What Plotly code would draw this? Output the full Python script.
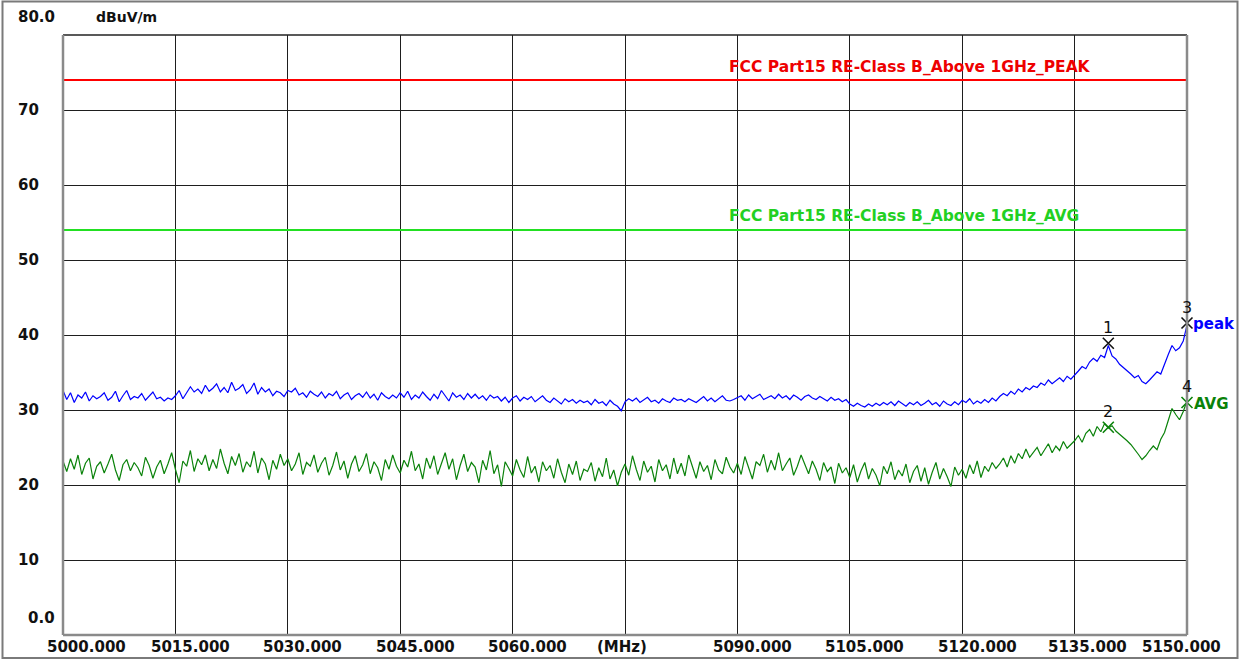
import plotly.graph_objects as go

# ---------------- data ----------------
F_START = 5000.0
F_STEP = 0.5

peak_values = [
    32.6, 31.4, 32.3, 31.0, 32.0, 31.6, 32.4, 31.2, 31.9, 31.5,
    31.8, 32.3, 31.3, 31.7, 32.5, 31.1, 31.9, 32.6, 31.4, 31.8,
    31.6, 32.2, 31.3, 31.9, 32.4, 31.5, 31.7, 31.2, 31.6, 31.4,
    31.9, 32.6, 31.5, 32.3, 33.1, 32.4, 32.8, 32.2, 33.3, 32.5,
    32.9, 33.5, 32.4, 33.0, 32.3, 33.7, 32.6, 32.9, 33.4, 32.2,
    32.7, 33.6, 32.1, 33.0, 32.4, 32.8, 31.9, 32.5, 32.3, 31.8,
    32.6, 32.4, 32.9, 32.0, 32.3, 31.7, 32.5, 32.1, 31.8, 32.4,
    31.6, 32.2, 31.9, 32.5, 31.5, 32.0, 32.3, 31.4, 31.9, 32.2,
    31.7, 32.4, 31.6, 32.1, 31.3, 32.3, 31.8, 31.5, 32.0, 31.6,
    32.3, 31.7, 32.5, 31.4, 32.0, 31.6, 32.4, 31.8, 31.3, 32.1,
    31.5, 32.6, 31.9, 31.2, 32.3, 31.7, 32.0, 31.4, 32.2, 31.6,
    32.1, 31.5, 31.9, 31.3, 32.0, 31.6, 31.8, 31.2, 31.7, 31.0,
    31.6, 31.9, 31.2, 31.7, 31.4, 31.8, 31.1, 31.5, 31.9, 31.3,
    31.0, 31.6, 31.2, 30.8, 31.5, 31.1, 31.4, 30.9, 31.3, 31.0,
    31.2, 30.7, 31.4, 30.9, 31.1, 30.6, 31.3, 30.8, 30.5, 29.9,
    31.1, 31.5, 31.2, 31.6, 31.0, 31.4, 31.7, 31.1, 31.3, 30.9,
    31.5, 31.2, 31.0, 31.6, 31.3, 31.4, 31.1, 31.5, 31.2, 31.0,
    31.4, 31.8, 31.2, 31.6, 31.1, 31.5, 31.9, 31.3, 31.2, 31.4,
    31.6, 31.9, 31.3, 32.0, 31.5, 31.8, 32.1, 31.4, 31.7, 31.9,
    31.5, 32.1, 31.6, 31.9, 31.4, 32.0, 31.7, 31.3, 31.8, 32.0,
    31.6, 31.4, 31.8, 31.5, 31.2, 31.7, 31.3, 31.5, 31.1, 31.4,
    30.8, 30.5, 30.9, 30.6, 30.4, 30.8, 30.5, 30.9, 30.6, 31.0,
    30.7, 31.1, 30.6, 31.2, 30.8, 30.5, 31.0, 30.7, 31.1, 30.6,
    30.9, 31.3, 30.7, 31.0, 30.5, 31.2, 30.8, 30.6, 31.1, 30.7,
    31.3, 31.0, 31.5, 30.8, 31.2, 30.9, 31.4, 31.0, 31.6, 31.2,
    31.8, 32.2, 31.9, 32.5, 32.1, 32.8, 32.4, 33.0, 32.7, 33.2,
    33.0, 33.6, 33.3, 34.0, 33.5, 33.9, 34.3, 33.8, 34.5, 34.1,
    34.6, 35.2, 35.8, 35.5, 36.4, 36.9, 36.5, 37.3, 37.0, 38.6,
    37.2, 36.8, 36.1, 35.7, 35.2, 34.8, 34.3, 34.6, 33.8, 33.5,
    34.0, 34.6, 35.1, 34.8, 36.2, 37.4, 38.6, 37.9, 38.3, 39.2,
    41.3,
]

avg_values = [
    23.2, 21.8, 23.5, 22.1, 24.0, 21.4, 22.9, 23.6, 20.8, 22.5,
    23.1, 21.6, 22.8, 24.1, 22.0, 20.6, 22.7, 23.4, 21.9, 23.0,
    22.3, 21.2, 23.7, 22.6, 20.9, 22.4, 23.3, 21.5, 22.8, 24.3,
    22.1, 20.3, 23.2, 22.5, 24.6, 21.8, 23.5, 22.7, 24.0, 21.9,
    23.4, 22.2, 24.8, 22.9, 21.5, 23.8, 22.6, 24.2, 21.7, 23.1,
    22.4, 24.5, 21.6, 23.6, 22.8, 20.7, 23.3, 22.1, 24.1, 22.6,
    23.5, 21.9, 22.8, 24.3, 21.4, 23.0, 22.5, 24.0, 21.7, 22.9,
    23.7, 21.3, 22.6, 24.4, 22.0, 23.2, 20.9, 22.8, 23.9, 21.8,
    22.7, 24.2, 21.5, 23.1, 22.3, 20.6, 23.4, 22.1, 24.0, 22.5,
    21.6, 23.3, 22.4, 24.5, 21.9, 22.8, 20.8, 23.6, 22.2, 23.9,
    21.4, 22.9, 24.3, 22.1, 23.5, 20.7, 22.6, 24.1, 21.8, 23.0,
    22.4, 20.3, 23.3, 22.0, 24.6, 21.5, 22.7, 19.8, 23.1, 22.2,
    21.2, 23.4, 22.0, 21.0, 23.8, 21.6, 22.5, 20.4, 23.1, 21.9,
    22.6, 20.9, 23.5, 21.7, 20.3, 22.8, 21.4, 23.2, 20.6, 22.1,
    21.8, 23.0, 20.5, 22.3, 21.1, 23.6, 20.8, 22.0, 19.9, 21.7,
    22.8, 21.3, 23.9, 22.1, 20.6, 23.2, 21.7, 22.5, 20.4, 23.4,
    21.9, 22.7, 20.8, 23.6, 21.5, 22.9, 21.2, 24.0, 22.3, 20.9,
    23.1, 21.8, 22.6, 20.7, 23.4, 22.0, 21.5, 23.7, 22.4, 21.6,
    22.9, 21.4, 23.8, 22.2, 20.8, 23.1, 22.6, 24.1, 21.7, 23.3,
    22.0, 24.3, 21.9, 22.8, 23.6, 21.3, 22.5, 24.0, 22.7, 21.5,
    23.2, 22.1, 20.6, 23.0, 21.8, 22.4, 20.2, 22.9, 21.6, 22.3,
    21.0, 22.7, 20.4, 21.9, 23.0, 20.8, 22.2, 21.3, 19.9, 22.5,
    21.5, 23.1, 20.7, 22.0, 21.2, 22.8, 20.3, 21.8, 22.6, 20.5,
    22.3, 20.1, 21.7, 23.0, 20.8, 22.2, 21.1, 19.8, 22.4, 21.3,
    22.1, 20.9, 22.7, 21.5, 23.2, 21.0, 22.5, 21.8, 23.0, 22.2,
    22.8, 23.6, 22.4, 23.9, 22.9, 24.2, 23.5, 24.8, 23.7, 24.4,
    25.0, 23.9, 24.7, 25.5, 24.3, 25.2, 24.6, 25.8, 24.9, 25.4,
    25.9, 26.6, 25.7, 26.9, 27.4, 26.5, 27.8, 27.1, 28.2, 27.6,
    27.9, 27.2, 26.8, 26.3, 25.9, 25.4, 24.8, 24.1, 23.4, 23.9,
    24.6, 25.2, 24.7, 26.1, 27.0, 28.6, 30.2, 29.4, 28.7, 29.8,
    31.2,
]

freqs = [F_START + F_STEP * i for i in range(len(peak_values))]

limit_x = [5000.0, 5150.0]
peak_limit = [74.0, 74.0]
avg_limit = [54.0, 54.0]
peak_limit_label = "FCC Part15 RE-Class B_Above 1GHz_PEAK"
avg_limit_label = "FCC Part15 RE-Class B_Above 1GHz_AVG"

marker_ids = ["1", "2", "3", "4"]
marker_freq = [5139.5, 5139.5, 5150.0, 5150.0]
marker_level = [38.9, 27.7, 41.6, 31.0]

x_tick_vals = [5000, 5015, 5030, 5045, 5060, 5075, 5090, 5105, 5120, 5135, 5150]
x_tick_text = ["5000.000", "5015.000", "5030.000", "5045.000", "5060.000", "(MHz)",
               "5090.000", "5105.000", "5120.000", "5135.000", "5150.000"]
y_tick_vals = [0, 10, 20, 30, 40, 50, 60, 70, 80]
y_tick_text = ["0.0", "10", "20", "30", "40", "50", "60", "70", "80.0"]
y_unit = "dBuV/m"

# ---------------- styling ----------------
W, H = 1240, 660
L, R, T, B = 63, 53, 35, 25
PW, PH = W - L - R, H - T - B
FONT = "DejaVu Sans"
BLUE = "#0000ff"
DGREEN = "#0a820a"


def px_x(px):
    return (px - L) / PW


def px_y(py):
    return (H - B - py) / PH


fig = go.Figure()

fig.add_trace(go.Scatter(x=limit_x, y=peak_limit, mode="lines",
                         line=dict(color="#ff0000", width=2), hoverinfo="skip"))
fig.add_trace(go.Scatter(x=limit_x, y=avg_limit, mode="lines",
                         line=dict(color="#22e022", width=2), hoverinfo="skip"))
fig.add_trace(go.Scatter(x=freqs, y=peak_values, mode="lines",
                         line=dict(color=BLUE, width=1.2)))
fig.add_trace(go.Scatter(x=freqs, y=avg_values, mode="lines",
                         line=dict(color=DGREEN, width=1.2)))

marker_colors = ["#111111", DGREEN, "#111111", DGREEN]
fig.add_trace(go.Scatter(x=marker_freq, y=marker_level, mode="markers",
                         marker=dict(symbol="x-thin-open", size=11, color=marker_colors,
                                     line=dict(width=1.6, color=marker_colors)),
                         cliponaxis=False))

annotations = []
# x tick labels
x_shifts = [23, 15, 15, 15, 15, -3, 15, 15, 15, 13, -6]
for v, t, s in zip(x_tick_vals, x_tick_text, x_shifts):
    annotations.append(dict(x=v, xref="x", y=px_y(647), yref="paper", text=t,
                            showarrow=False, xanchor="center", yanchor="middle",
                            xshift=s, font=dict(family=FONT, size=15, color="#111111", weight="bold")))
# y tick labels
for v, t in zip(y_tick_vals, y_tick_text):
    if v == 80:
        xr, yy = 57, px_y(17)
    elif v == 0:
        xr, yy = 57, px_y(618)
    else:
        xr, yy = 41, px_y(T + (80 - v) * PH / 80)
    annotations.append(dict(x=px_x(xr), xref="paper", y=yy, yref="paper", text=t,
                            showarrow=False, xanchor="right", yanchor="middle",
                            font=dict(family=FONT, size=15, color="#111111", weight="bold")))
annotations.append(dict(x=px_x(94), xref="paper", y=px_y(17), yref="paper", text=y_unit,
                        showarrow=False, xanchor="left", yanchor="middle",
                        font=dict(family=FONT, size=14, color="#111111", weight="bold")))
# limit labels
annotations.append(dict(x=px_x(727), xref="paper", y=peak_limit[0], yref="y", yshift=13,
                        text=peak_limit_label, showarrow=False, xanchor="left", yanchor="middle",
                        font=dict(family=FONT, size=15.5, color="#ee0000", weight="bold")))
annotations.append(dict(x=px_x(727), xref="paper", y=avg_limit[0], yref="y", yshift=14,
                        text=avg_limit_label, showarrow=False, xanchor="left", yanchor="middle",
                        font=dict(family=FONT, size=15.5, color="#22d022", weight="bold")))
# marker numbers
for mid, f, lv in zip(marker_ids, marker_freq, marker_level):
    annotations.append(dict(x=f, y=lv, xref="x", yref="y", text=mid, showarrow=False,
                            yshift=16, xanchor="center", yanchor="middle",
                            font=dict(family=FONT, size=16, color="#111111")))
annotations.append(dict(x=marker_freq[2], y=marker_level[2], xref="x", yref="y", text="peak",
                        showarrow=False, xanchor="left", yanchor="middle", xshift=4, yshift=-1,
                        font=dict(family=FONT, size=15, color=BLUE, weight="bold")))
annotations.append(dict(x=marker_freq[3], y=marker_level[3], xref="x", yref="y", text="AVG",
                        showarrow=False, xanchor="left", yanchor="middle", xshift=5, yshift=-1,
                        font=dict(family=FONT, size=15, color=DGREEN, weight="bold")))

shapes = [
    # outer frame of the image
    dict(type="rect", xref="paper", yref="paper", x0=px_x(2.5), x1=px_x(1237.5),
         y0=px_y(658), y1=px_y(1.5), line=dict(color="#7a7a7a", width=2), layer="above"),
    # plot border
    dict(type="line", xref="paper", yref="paper", x0=0, x1=1, y0=1, y1=1,
         line=dict(color="#222222", width=1.5), layer="above"),
    dict(type="line", xref="paper", yref="paper", x0=0, x1=0, y0=0, y1=1,
         line=dict(color="#8a8a8a", width=2.5), layer="above"),
    dict(type="line", xref="paper", yref="paper", x0=0, x1=1, y0=0, y1=0,
         line=dict(color="#8a8a8a", width=2.5), layer="above"),
    dict(type="line", xref="paper", yref="paper", x0=1, x1=1, y0=0, y1=1,
         line=dict(color="#8a8a8a", width=2.5), layer="above"),
]

fig.update_layout(
    width=W, height=H,
    margin=dict(l=L, r=R, t=T, b=B, pad=0),
    paper_bgcolor="white", plot_bgcolor="white",
    showlegend=False,
    annotations=annotations,
    shapes=shapes,
    xaxis=dict(range=[5000, 5150], tickvals=x_tick_vals, showticklabels=False,
               showgrid=True, gridcolor="#1e1e1e", gridwidth=1, zeroline=False,
               showline=False, ticks=""),
    yaxis=dict(range=[0, 80], tickvals=y_tick_vals, showticklabels=False,
               showgrid=True, gridcolor="#1e1e1e", gridwidth=1, zeroline=False,
               showline=False, ticks=""),
)

fig.write_html("out.html", config={"displayModeBar": False},
               post_script="document.body.style.margin='0';document.body.style.overflow='hidden';")
